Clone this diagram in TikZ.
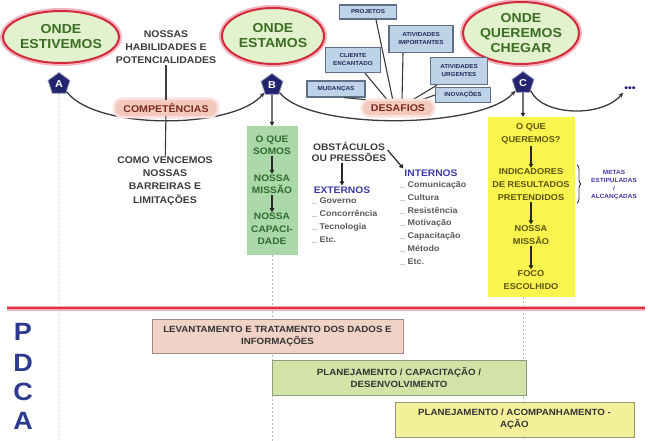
\documentclass[tikz,border=0pt]{standalone}
\usepackage{fontspec}
\setmainfont{Liberation Sans}[FakeStretch=1.08]
\usetikzlibrary{shapes.geometric,arrows.meta,calc,decorations.pathreplacing}

\definecolor{placefill}{HTML}{E2F2CF}
\definecolor{placered}{HTML}{D22B3C}
\definecolor{placehalo}{HTML}{F4B3BE}
\definecolor{placetext}{HTML}{3B6D22}
\definecolor{navy}{HTML}{23236E}
\definecolor{themefill}{HTML}{F3C9BE}
\definecolor{themehalo}{HTML}{FAE3DD}
\definecolor{themetext}{HTML}{7A2A20}
\definecolor{chfill}{HTML}{BED3E8}
\definecolor{chdraw}{HTML}{5F6F88}
\definecolor{chtext}{HTML}{1E2B5A}
\definecolor{gtext}{HTML}{3C3C3C}
\definecolor{arcgray}{HTML}{3A3A3A}
\definecolor{greenbox}{HTML}{ABD8A9}
\definecolor{greentext}{HTML}{2F6B2F}
\definecolor{yellowbox}{HTML}{F9F54E}
\definecolor{yellowtext}{HTML}{5C5410}
\definecolor{bluetext}{HTML}{3A3AA8}
\definecolor{pdcablue}{HTML}{2D3A8E}
\definecolor{pinkbar}{HTML}{F1D2C6}
\definecolor{pinkedge}{HTML}{9C8A86}
\definecolor{greenbar}{HTML}{D3E3A8}
\definecolor{greenedge}{HTML}{8F9C7C}
\definecolor{yellowbar}{HTML}{F4F09A}
\definecolor{yellowedge}{HTML}{9A9670}
\definecolor{rulered}{HTML}{E0303F}
\definecolor{rulehalo}{HTML}{F4AEB5}

\tikzset{
  place/.style={ellipse, fill=placefill, draw=placered, line width=2pt,
    preaction={draw=placehalo, line width=6pt},
    text=placetext, font=\bfseries\fontsize{13}{15}\selectfont,
    align=center, inner sep=0pt},
  marker/.style={regular polygon, regular polygon sides=5, fill=navy,
    draw=navy!45!white, line width=0.8pt, minimum size=23pt, inner sep=0pt,
    text=white, font=\bfseries\fontsize{10}{10}\selectfont},
  theme/.style={rounded corners=7pt, fill=themefill,
    preaction={draw=themehalo, line width=5pt},
    text=themetext, font=\bfseries\fontsize{9.8}{10}\selectfont,
    inner xsep=8pt, inner ysep=3.5pt},
  challenge/.style={fill=chfill, draw=chdraw, line width=1.2pt, text=chtext,
    font=\bfseries\fontsize{5.8}{8}\selectfont, align=center, inner sep=1pt},
  note/.style={text=gtext, font=\bfseries\fontsize{9.7}{13.2}\selectfont,
    align=center, inner sep=1pt},
  stem/.style={draw=gtext, line width=1.1pt},
  spoke/.style={draw=arcgray, line width=1.1pt},
  arc/.style={draw=arcgray, line width=1.3pt, -{Stealth[length=5pt,width=4.5pt]}},
  guide/.style={draw=gray!55, line width=0.9pt, dash pattern=on 2pt off 2pt},
  down/.style={draw=black!85, line width=1.2pt, -{Triangle[length=4pt,width=4.5pt]}},
  panel/.style={inner sep=0pt},
  ingreen/.style={text=greentext, font=\bfseries\fontsize{9.4}{12.3}\selectfont,
    align=center, inner sep=1pt},
  inyellow/.style={text=yellowtext, font=\bfseries\fontsize{8.5}{13}\selectfont,
    align=center, inner sep=1pt},
  head/.style={font=\bfseries\fontsize{9.5}{11.3}\selectfont, align=center, inner sep=1pt},
  listing/.style={text=gtext!85, font=\bfseries\fontsize{8.3}{12.9}\selectfont,
    align=left, inner sep=0pt, anchor=north west},
  phase/.style={font=\bfseries\fontsize{25}{25}\selectfont, text=pdcablue, inner sep=0pt},
  bar/.style={draw, line width=1pt, align=center, text=black!80,
    font=\bfseries\fontsize{9}{12}\selectfont, inner sep=0pt},
  bracemark/.style={draw=arcgray, line width=0.9pt,
    decorate, decoration={brace, amplitude=4pt}},
  goals/.style={text=bluetext, font=\bfseries\fontsize{6}{8}\selectfont,
    align=center, inner sep=0pt},
  rule/.style={draw=rulered, line width=2.4pt, preaction={draw=rulehalo, line width=5pt}}
}

\begin{document}
\begin{tikzpicture}[x=1pt, y=-1pt]
\useasboundingbox[fill=white] (0,0) rectangle (648,441);

% the three milestones
\node[place, minimum width=106pt, minimum height=52pt] (wasE) at (61,37) {ONDE\\ESTIVEMOS};
\node[place, minimum width=102pt, minimum height=56pt] (isE)  at (273,36) {ONDE\\ESTAMOS};
\node[place, minimum width=108pt, minimum height=62pt] (goE)  at (521,33) {ONDE\\QUEREMOS\\CHEGAR};

\node[marker] (mA) at (59,84) {A};
\node[marker] (mB) at (272,85) {B};
\node[marker] (mC) at (523,83) {C};
\node[text=navy, font=\bfseries\fontsize{10}{10}\selectfont, inner sep=1pt] (dots) at (630,89) {•••};

% vertical guides down to the PDCA band
\coordinate (endA) at (59,441);
\coordinate (endB) at (272,441);
\coordinate (endC) at (523,441);

% competences between A and B
\node[note] (hab) at (166,47) {NOSSAS\\HABILIDADES E\\POTENCIALIDADES};
\node[theme] (comp) at (166,108) {COMPETÊNCIAS};
\node[note] (como) at (165,181) {COMO VENCEMOS\\NOSSAS\\BARREIRAS E\\LIMITAÇÕES};

% challenges between B and C
\node[theme] (des) at (398,108) {DESAFIOS};
\node[challenge, minimum width=57pt, minimum height=14pt] (proj) at (368,12) {PROJETOS};
\node[challenge, minimum width=64pt, minimum height=27pt] (imp) at (421,39) {ATIVIDADES\\IMPORTANTES};
\node[challenge, minimum width=55pt, minimum height=25pt] (cli) at (353,60) {CLIENTE\\ENCANTADO};
\node[challenge, minimum width=57pt, minimum height=27pt] (urg) at (459,71) {ATIVIDADES\\URGENTES};
\node[challenge, minimum width=58pt, minimum height=16pt] (mud) at (336,89) {MUDANÇAS};
\node[challenge, minimum width=55pt, minimum height=15pt] (ino) at (463,95) {INOVAÇÕES};

\draw[spoke] ([xshift=8pt]mud.south) -- ([xshift=-20pt]des.north);
\draw[spoke] ([xshift=12pt]cli.south) -- ([xshift=-10pt]des.north);
\draw[spoke] ([xshift=8pt]proj.south) -- ([xshift=-5pt]des.north);
\draw[spoke] ([xshift=-18pt]imp.south) -- ([xshift=4pt]des.north);
\draw[spoke] ([xshift=-22pt]urg.south) -- ([xshift=13pt]des.north);
\draw[spoke] (ino.west) -- ([xshift=21pt]des.north);

% arcs joining the milestones
\draw[arc] (mA.south east) .. controls (95,130) and (232,130) .. (mB.south west);
\draw[arc] (mB.south east) .. controls (310,131) and (482,129) .. (mC.south west);
\draw[arc] (mC.south east) .. controls (542,116) and (602,118) .. (dots.south west);
% labels sit on top of the arcs
\node[theme] at (comp) {COMPETÊNCIAS};
\node[theme] at (des) {DESAFIOS};

\draw[stem] (hab) -- (comp);
\draw[stem] (comp) -- (como);

% where we are
\node[panel, fill=greenbox, minimum width=51pt, minimum height=129pt] (gbox) at (272,190.5) {};
\node[ingreen] (gs1) at (272,145) {O QUE\\SOMOS};
\node[ingreen] (gs2) at (272,184.5) {NOSSA\\MISSÃO};
\node[ingreen] (gs3) at (272,229) {NOSSA\\CAPACI-\\DADE};
\draw[down] (mB) -- (gbox.north);
\draw[down] (gs1) -- (gs2);
\draw[down] (gs2) -- (gs3);

% obstacles
\node[head, text=gtext] (obs) at (349,152) {OBSTÁCULOS\\OU PRESSÕES};
\node[head, text=bluetext] (ext) at (342,190) {EXTERNOS};
\node[head, text=bluetext] (int) at (431,173) {INTERNOS};
\draw[down] (ext |- obs.south) -- (ext.north);
\draw[down] ([yshift=2pt]obs.east) -- (int.north west);
\node[listing] (extl) at (312,198) {\_ Governo\\\_ Concorrência\\\_ Tecnologia\\\_ Etc.};
\node[listing] (intl) at (400,181) {\_ Comunicação\\\_ Cultura\\\_ Resistência\\\_ Motivação\\\_ Capacitação\\\_ Método\\\_ Etc.};

% where we want to get
\node[panel, fill=yellowbox, minimum width=87pt, minimum height=180pt] (ybox) at (531.5,207) {};
\node[inyellow] (ys1) at (531,134) {O QUE\\QUEREMOS?};
\node[inyellow] (ys2) at (531,185) {INDICADORES\\DE RESULTADOS\\PRETENDIDOS};
\node[inyellow] (ys3) at (531,235) {NOSSA\\MISSÃO};
\node[inyellow] (ys4) at (531,280) {FOCO\\ESCOLHIDO};
\draw[down] (mC) -- (mC |- ybox.north);
\draw[down] (ys1) -- (ys2);
\draw[down] (ys2) -- (ys3);
\draw[down] (ys3) -- (ys4);

\coordinate (braceTop) at (577,165);
\coordinate (braceBot) at (577,203);
\draw[bracemark] (braceTop) -- (braceBot);
\node[goals] (goal) at (614,185) {METAS\\ESTIPULADAS\\/\\ALCANÇADAS};

% guides
\draw[guide] (mA.south) -- (endA);
\draw[guide] (gbox.south) -- (endB);
\draw[guide] (mC |- ybox.south) -- (endC);

% PDCA band
\coordinate (ruleL) at (7,308);
\coordinate (ruleR) at (645,308);
\draw[rule] (ruleL) -- (ruleR);

\node[phase] (pP) at (23,332) {P};
\node[phase] (pD) at (23,363) {D};
\node[phase] (pC) at (23,392) {C};
\node[phase] (pA) at (23,421) {A};

\node[bar, fill=pinkbar, draw=pinkedge, minimum width=251pt, minimum height=34pt] (bar1) at (277.5,336) {LEVANTAMENTO E TRATAMENTO DOS DADOS E\\INFORMAÇÕES};
\node[bar, fill=greenbar, draw=greenedge, minimum width=254pt, minimum height=35pt] (bar2) at (399,377.5) {PLANEJAMENTO / CAPACITAÇÃO /\\DESENVOLVIMENTO};
\node[bar, fill=yellowbar, draw=yellowedge, minimum width=239pt, minimum height=35pt] (bar3) at (514.5,419.5) {PLANEJAMENTO / ACOMPANHAMENTO -\\AÇÃO};
\end{tikzpicture}
\end{document}
